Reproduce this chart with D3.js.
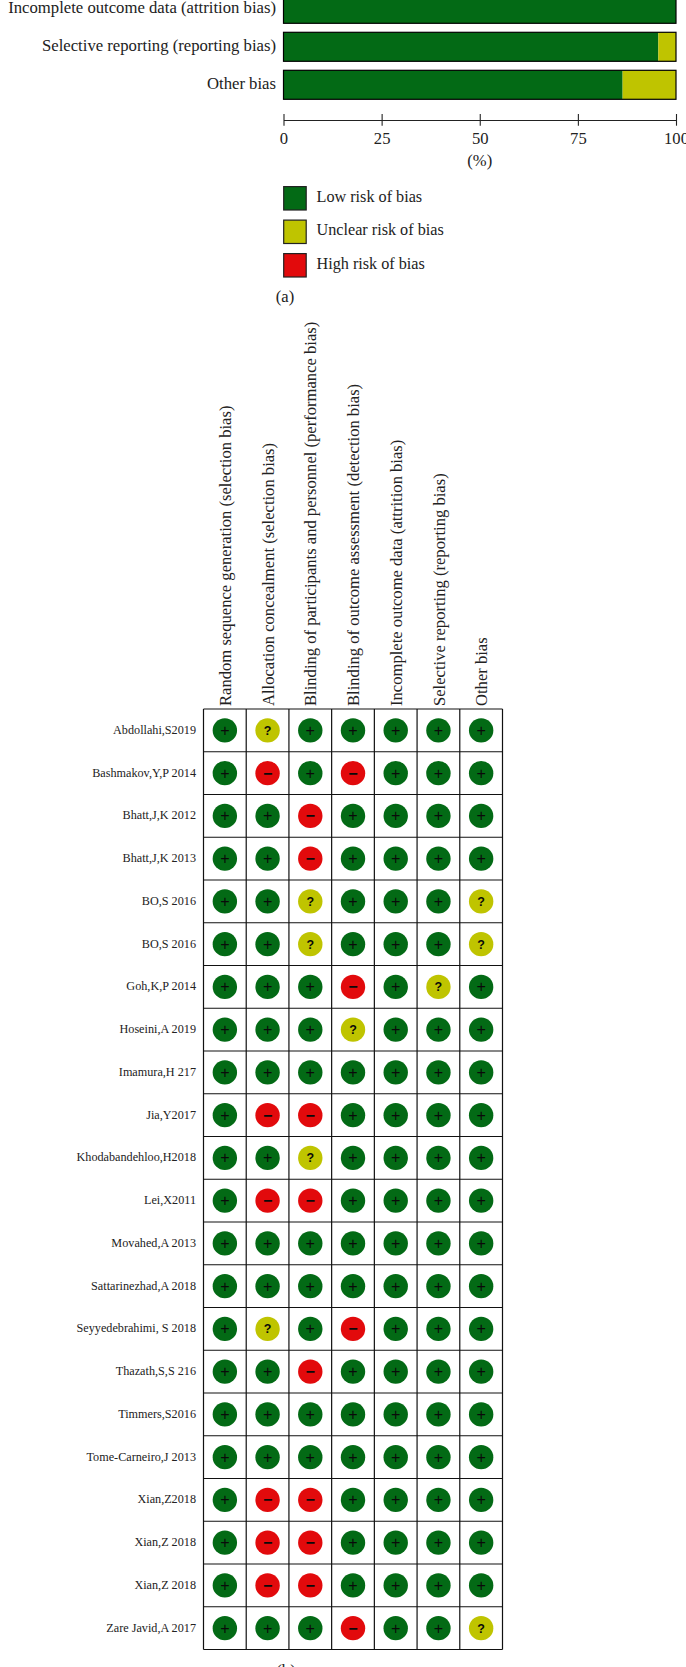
<!DOCTYPE html>
<html>
<head>
<meta charset="utf-8">
<script src="https://cdn.jsdelivr.net/npm/d3@7"></script>
<style>
html, body { margin: 0; padding: 0; background: #fff; overflow: hidden; }
svg { display: block; }
text { font-family: "Liberation Serif", serif; fill: #222; }
.mark { font-family: "Liberation Sans", sans-serif; fill: #0a0a0a; }
</style>
</head>
<body>
<div id="chart"></div>
<script>
// only the last three bars of panel (a) are inside the picture
const barLabels = ['Incomplete outcome data (attrition bias)', 'Selective reporting (reporting bias)', 'Other bias'];
const lowRisk = [100, 95.5, 86.4];
const unclearRisk = [0, 4.5, 13.6];
const highRisk = [0, 0, 0];
const xTicks = [0, 25, 50, 75, 100];
const legendLabels = ['Low risk of bias', 'Unclear risk of bias', 'High risk of bias'];
const colors = { low: '#036a15', unclear: '#bfc400', high: '#e20a0c' };

const columns = [
  'Random sequence generation (selection bias)',
  'Allocation concealment (selection bias)',
  'Blinding of participants and personnel (performance bias)',
  'Blinding of outcome assessment (detection bias)',
  'Incomplete outcome data (attrition bias)',
  'Selective reporting (reporting bias)',
  'Other bias'
];
const studies = [
  'Abdollahi,S2019', 'Bashmakov,Y,P 2014', 'Bhatt,J,K 2012', 'Bhatt,J,K 2013',
  'BO,S 2016', 'BO,S 2016', 'Goh,K,P 2014', 'Hoseini,A 2019', 'Imamura,H 217',
  'Jia,Y2017', 'Khodabandehloo,H2018', 'Lei,X2011', 'Movahed,A 2013',
  'Sattarinezhad,A 2018', 'Seyyedebrahimi, S 2018', 'Thazath,S,S 216',
  'Timmers,S2016', 'Tome-Carneiro,J 2013', 'Xian,Z2018', 'Xian,Z 2018',
  'Xian,Z 2018', 'Zare Javid,A 2017'
];
const ratings = [
  '+?+++++', '+-+-+++', '++-++++', '++-++++', '++?+++?', '++?+++?',
  '+++-+?+', '+++?+++', '+++++++', '+--++++', '++?++++', '+--++++',
  '+++++++', '+++++++', '+?+-+++', '++-++++', '+++++++', '+++++++',
  '+--++++', '+--++++', '+--++++', '+++-++?'
];

const W = 686, H = 1667;
const svg = d3.select('#chart').append('svg').attr('width', W).attr('height', H);

// panel (a)
const x = d3.scaleLinear().domain([0, 100]).range([283.5, 676]);
const yBar = d3.scaleBand().domain(barLabels).range([-5.7, 99.3]).paddingInner(0.237);

const stack = d3.stack().keys(['low', 'unclear', 'high'])(
  barLabels.map((l, i) => ({ label: l, low: lowRisk[i], unclear: unclearRisk[i], high: highRisk[i] })));

svg.append('g').selectAll('g').data(stack).enter().append('g')
  .attr('fill', d => colors[d.key])
  .selectAll('rect').data(d => d).enter().append('rect')
  .attr('x', d => x(d[0]))
  .attr('width', d => x(d[1]) - x(d[0]))
  .attr('y', d => yBar(d.data.label))
  .attr('height', yBar.bandwidth());

svg.append('g').selectAll('rect').data(barLabels).enter().append('rect')
  .attr('x', x(0)).attr('width', x(100) - x(0))
  .attr('y', d => yBar(d)).attr('height', yBar.bandwidth())
  .attr('fill', 'none').attr('stroke', '#000').attr('stroke-width', 1.2);

svg.append('g').selectAll('text').data(barLabels).enter().append('text')
  .attr('x', 276).attr('y', d => yBar(d) + yBar.bandwidth() / 2 + 4)
  .attr('text-anchor', 'end').attr('font-size', 16.7).text(d => d);

const axis = svg.append('g').attr('transform', 'translate(0,120)')
  .call(d3.axisBottom(x).tickValues(xTicks).tickSize(5.7).tickSizeOuter(0).tickPadding(6.8));
axis.select('.domain').attr('stroke', '#222').attr('stroke-width', 1.1);
axis.selectAll('.tick line').attr('y1', -6).attr('stroke', '#222').attr('stroke-width', 1.1);
axis.selectAll('.tick text').attr('font-size', 16.6).attr('font-family', '"Liberation Serif", serif').attr('fill', '#222');

svg.append('text').attr('x', x(50)).attr('y', 166).attr('text-anchor', 'middle')
  .attr('font-size', 16.6).text('(%)');

const legendKeys = ['low', 'unclear', 'high'];
const yLegend = d3.scalePoint().domain(legendKeys).range([198.3, 265.3]);
const legend = svg.append('g').selectAll('g').data(legendKeys).enter().append('g')
  .attr('transform', d => 'translate(283.5,' + yLegend(d) + ')');
legend.append('rect').attr('x', 0.2).attr('y', -11.7).attr('width', 22.5).attr('height', 23.4)
  .attr('fill', d => colors[d]).attr('stroke', '#222').attr('stroke-width', 1.2);
legend.append('text').attr('x', 33).attr('y', 3.5).attr('font-size', 16.2)
  .text((d, i) => legendLabels[i]);

svg.append('text').attr('x', 285).attr('y', 302).attr('text-anchor', 'middle')
  .attr('font-size', 16.6).text('(a)');

// panel (b)
const xCol = d3.scaleBand().domain(d3.range(columns.length)).range([203.5, 502.5]);
const yRow = d3.scaleBand().domain(d3.range(studies.length)).range([709, 1649.5]);

svg.append('g').selectAll('text').data(columns).enter().append('text')
  .attr('transform', (d, i) => 'translate(' + (xCol(i) + 27.5) + ',706) rotate(-90)')
  .attr('font-size', 16.6).text(d => d);

svg.append('g').selectAll('text').data(studies).enter().append('text')
  .attr('x', 196).attr('y', (d, i) => yRow(i) + yRow.bandwidth() / 2 + 3.5)
  .attr('text-anchor', 'end').attr('font-size', 12.2).text(d => d);

const grid = svg.append('g').attr('stroke', '#111').attr('stroke-width', 1.2);
grid.selectAll('line.v').data(d3.range(columns.length + 1)).enter().append('line').attr('class', 'v')
  .attr('x1', d => d < columns.length ? xCol(d) : xCol.range()[1])
  .attr('x2', d => d < columns.length ? xCol(d) : xCol.range()[1])
  .attr('y1', yRow.range()[0]).attr('y2', yRow.range()[1]);
grid.selectAll('line.h').data(d3.range(studies.length + 1)).enter().append('line').attr('class', 'h')
  .attr('y1', d => d < studies.length ? yRow(d) : yRow.range()[1])
  .attr('y2', d => d < studies.length ? yRow(d) : yRow.range()[1])
  .attr('x1', xCol.range()[0]).attr('x2', xCol.range()[1]);

const cells = [];
ratings.forEach((r, row) => r.split('').forEach((v, col) => cells.push({ row, col, v })));
const fill = { '+': colors.low, '?': colors.unclear, '-': colors.high };
const glyph = { '+': '+', '?': '?', '-': '\u2212' };

const cell = svg.append('g').selectAll('g').data(cells).enter().append('g')
  .attr('transform', d => 'translate(' + (xCol(d.col) + xCol.bandwidth() / 2) + ',' + (yRow(d.row) + yRow.bandwidth() / 2) + ')');
cell.append('circle').attr('r', 12.2).attr('fill', d => fill[d.v]);
cell.append('text').attr('class', 'mark').attr('text-anchor', 'middle')
  .attr('y', d => d.v == '?' ? 4.5 : 5.4)
  .attr('font-size', d => d.v == '?' ? 12.5 : 16)
  .attr('font-weight', d => d.v == '+' ? 'normal' : 'bold')
  .text(d => glyph[d.v]);

svg.append('text').attr('x', 286).attr('y', 1676).attr('text-anchor', 'middle')
  .attr('font-size', 16.6).text('(b)');
</script>
</body>
</html>
